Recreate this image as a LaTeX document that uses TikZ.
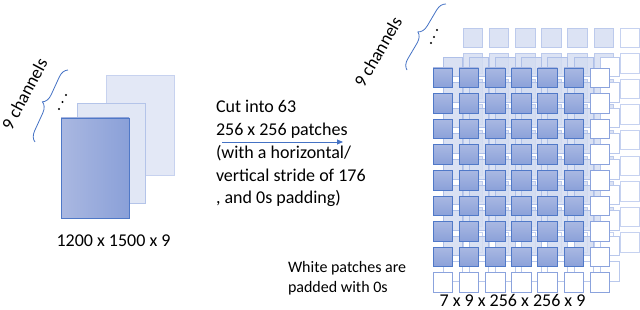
\documentclass[tikz,border=0pt]{standalone}
\usepackage{fontspec}
\setmainfont{Carlito}
\usetikzlibrary{arrows.meta,decorations.pathreplacing}
\definecolor{ofblue}{HTML}{4472C4}
\definecolor{ftop}{HTML}{A9B8E2}
\definecolor{fbot}{HTML}{8BA1D9}
\definecolor{fborder}{HTML}{5079C8}
\definecolor{fwborder}{HTML}{8BA3DD}
\definecolor{mfill}{HTML}{D3DCF1}
\definecolor{mborder}{HTML}{AFC0E8}
\definecolor{mwborder}{HTML}{B9C8EC}
\definecolor{bfill}{HTML}{D6DEF2}
\definecolor{bborder}{HTML}{BCCAEC}
\definecolor{bwborder}{HTML}{C6D2F0}
\definecolor{sbackfill}{HTML}{E3E8F6}
\definecolor{sbackdraw}{HTML}{C7D2EF}
\definecolor{smidfill}{HTML}{E1E7F5}
\definecolor{smiddraw}{HTML}{B4C4E9}
\definecolor{sfl}{HTML}{AAB8E1}
\definecolor{sfr}{HTML}{8AA0D8}
\definecolor{sfdraw}{HTML}{4F78C7}
\newcommand\celllayer[5]{%
  \foreach \i in {0,...,6}{\foreach \j in {0,...,8}{%
    \ifnum\i=6 \tikzset{cur/.style={#5}}\else\ifnum\j=8 \tikzset{cur/.style={#5}}\else\tikzset{cur/.style={#4}}\fi\fi
    \node[cur] (#1-\i-\j) at ({#2+26.2*\i},{#3+25.6*\j}) {};
  }}}
\begin{document}
\begin{tikzpicture}[x=1pt,y=-1pt,
  cellbase/.style={rectangle,inner sep=0pt,outer sep=0pt,minimum width=19.5pt,minimum height=19.5pt,anchor=north west,line width=0.8pt},
  frontblue/.style={cellbase,draw=fborder,top color=ftop,bottom color=fbot},
  frontwhite/.style={cellbase,draw=fwborder,fill=white},
  midblue/.style={cellbase,draw=mborder,fill=mfill,fill opacity=0.85},
  midwhite/.style={cellbase,draw=mwborder,fill=white},
  backblue/.style={cellbase,draw=bborder,fill=bfill,fill opacity=0.85},
  backwhite/.style={cellbase,draw=bwborder,fill=white},
  sheet/.style={rectangle,inner sep=0pt,outer sep=0pt,minimum width=68pt,minimum height=100pt,line width=0.8pt},
  lbl/.style={inner sep=0pt,outer sep=0pt,font=\fontsize{18}{22}\selectfont},
  brc/.style={draw=ofblue,line width=0.8pt,decorate,decoration={brace,amplitude=10pt}},
  dotn/.style={circle,fill=black,inner sep=0pt,minimum size=2.2pt},
  arr/.style={draw=ofblue,line width=0.8pt,-{Triangle[length=6pt,width=5pt]}}
]
\useasboundingbox (0,0) rectangle (640,310);
% left stack
\node[sheet,draw=sbackdraw,fill=sbackfill] (sback) at (140,125) {};
\node[sheet,draw=smiddraw,fill=smidfill] (smid) at (111,153) {};
\node[sheet,draw=sfdraw,left color=sfl,right color=sfr] (sfront) at (95,168) {};
\node[lbl,anchor=base] (lsize) at (113.5,246) {1200 x 1500 x 9};
\coordinate (lb1) at (35,142);
\coordinate (lb2) at (68,70);
\draw[brc] (lb1) -- (lb2);
\node[lbl,rotate=62] (lch) at (24.5,94) {9 channels};
\node[dotn] (ld1) at (66,95) {};
\node[dotn] (ld2) at (62.5,102) {};
\node[dotn] (ld3) at (59,109) {};
% middle text
\node[lbl,anchor=base west,align=left,font=\fontsize{18}{22.7}\selectfont] (cut) at (216,203.8)
  {Cut into 63\\256 x 256 patches\\(with a horizontal/\\vertical stride of 176\\, and 0s padding)};
\coordinate (a1) at (222,142);
\coordinate (a2) at (343,142);
\draw[arr] (a1) -- (a2);
\node[lbl,anchor=base west,align=left,font=\fontsize{16}{20}\selectfont] (wp) at (288,292)
  {White patches are\\padded with 0s};
% grid layers
\celllayer{b}{463}{28}{backblue}{backwhite}
\celllayer{m}{443}{57}{midblue}{midwhite}
\celllayer{f}{433}{68}{frontblue}{frontwhite}
\node[lbl,anchor=base] (rsize) at (512.5,306.5) {7 x 9 x 256 x 256 x 9};
\coordinate (rb1) at (407,70);
\coordinate (rb2) at (446,4);
\draw[brc] (rb1) -- (rb2);
\node[lbl,rotate=60] (rch) at (378,52) {9 channels};
\node[dotn] (rd1) at (437,30) {};
\node[dotn] (rd2) at (434,37) {};
\node[dotn] (rd3) at (431,43) {};
\end{tikzpicture}
\end{document}
